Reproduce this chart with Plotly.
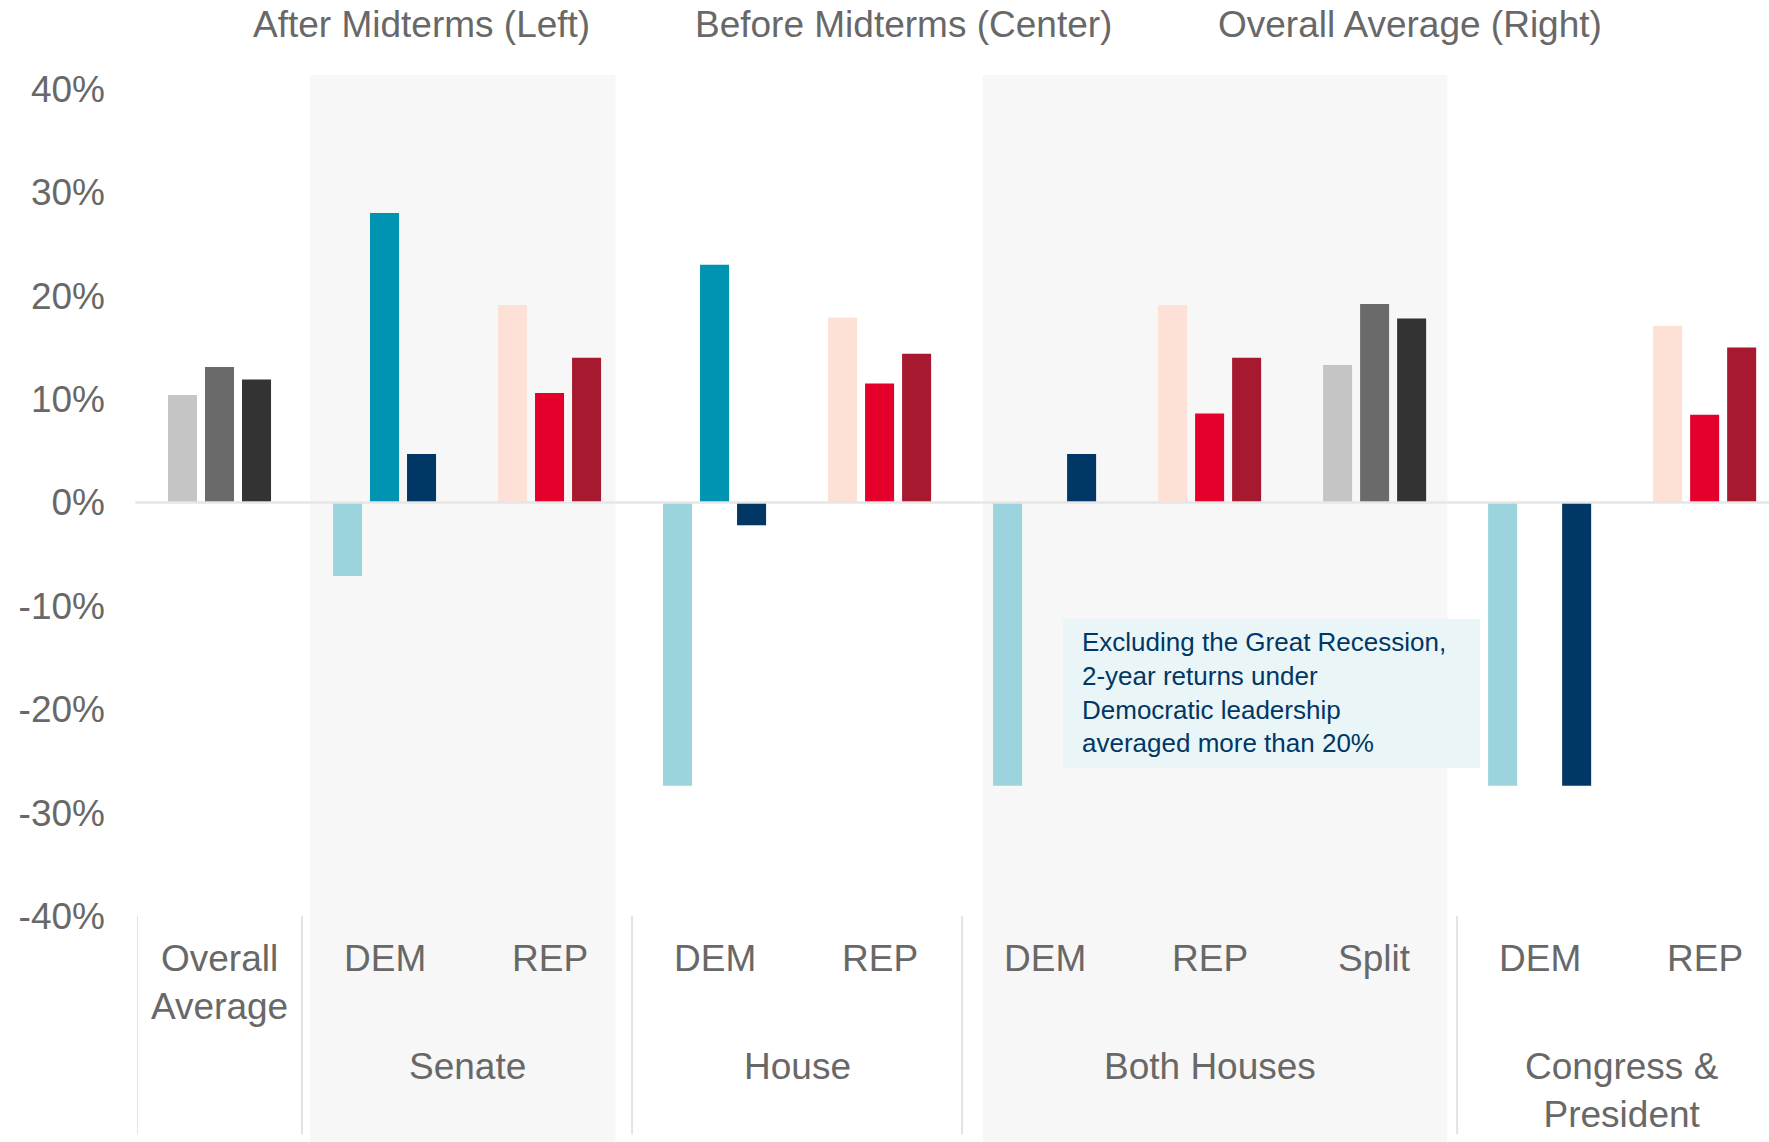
import plotly.graph_objects as go

# ---------------- data ----------------
categories = ["Overall<br>Average", "DEM", "REP", "DEM", "REP", "DEM", "REP", "Split", "DEM", "REP"]
cat_kind = ["avg", "dem", "rep", "dem", "rep", "dem", "rep", "avg", "dem", "rep"]

after_midterms = [10.4, -7.1, 19.1, -27.4, 17.9, -27.4, 19.1, 13.3, -27.4, 17.1]
before_midterms = [13.1, 28.0, 10.6, 23.0, 11.5, None, 8.6, 19.2, None, 8.5]
overall_average = [11.9, 4.7, 14.0, -2.2, 14.4, 4.7, 14.0, 17.8, -27.4, 15.0]

series_names = ["After Midterms (Left)", "Before Midterms (Center)", "Overall Average (Right)"]

groups = ["Senate", "House", "Both Houses", "Congress &<br>President"]
group_members = [[1, 2], [3, 4], [5, 6, 7], [8, 9]]

tick_vals = [40, 30, 20, 10, 0, -10, -20, -30, -40]
tick_text = ["40%", "30%", "20%", "10%", "0%", "-10%", "-20%", "-30%", "-40%"]

note_text = ("Excluding the Great Recession,<br>2-year returns under<br>"
             "Democratic leadership<br>averaged more than 20%")

# ---------------- styles ----------------
palette = {
    "avg": ["#C4C5C4", "#696A69", "#333333"],
    "dem": ["#9CD4DD", "#0093B2", "#003764"],
    "rep": ["#FDE1D6", "#E4002B", "#A6192E"],
}
FONT = "Liberation Sans, Arial, sans-serif"
GREY = "#686868"
BIG = 37

W, H = 1769, 1142
x_pos = list(range(len(categories)))

fig = go.Figure()
for i, (name, vals) in enumerate(zip(series_names, [after_midterms, before_midterms, overall_average])):
    fig.add_trace(go.Bar(
        x=x_pos, y=vals, name=name,
        marker=dict(color=[palette[k][i] for k in cat_kind], line=dict(width=0)),
        showlegend=False, hoverinfo="skip",
    ))

shapes = []
# shaded group backgrounds (Senate, Both Houses)
for x0, x1 in [(0.55, 2.4), (4.625, 7.44)]:
    shapes.append(dict(type="rect", xref="x", yref="paper", x0=x0, x1=x1, y0=0, y1=1,
                       fillcolor="#F7F7F7", line=dict(width=0), layer="below"))
# note box background
shapes.append(dict(type="rect", xref="x", yref="y", x0=5.112, x1=7.639, y0=-11.27, y1=-25.68,
                   fillcolor="#EAF5F8", line=dict(width=0), layer="below"))
# separators below axis
for xs in [-0.5, 0.5, 2.5, 4.5, 7.5]:
    shapes.append(dict(type="line", xref="x", yref="y", x0=xs, x1=xs, y0=-40, y1=-61.1,
                       line=dict(color="#E3E3E3", width=2), layer="above"))
# zero line
shapes.append(dict(type="line", xref="paper", yref="y", x0=-0.001, x1=1, y0=0, y1=0,
                   line=dict(color="#E6E6E6", width=2.5), layer="above"))

annotations = []
# category labels
for xi, lab in zip(x_pos, categories):
    annotations.append(dict(x=xi, y=-41.9, xref="x", yref="y", text=lab, showarrow=False,
                            xanchor="center", yanchor="top", align="center",
                            font=dict(family=FONT, size=BIG, color=GREY)))
# group labels
for g, mem in zip(groups, group_members):
    gx = sum(mem) / len(mem)
    annotations.append(dict(x=gx, y=-52.4, xref="x", yref="y", text=g, showarrow=False,
                            xanchor="center", yanchor="top", align="center",
                            font=dict(family=FONT, size=BIG, color=GREY)))
# series header labels
for name, hx in zip(series_names, [1.225, 4.147, 7.213]):
    annotations.append(dict(x=hx, y=1.047, xref="x", yref="paper", text=name, showarrow=False,
                            xanchor="center", yanchor="middle",
                            font=dict(family=FONT, size=BIG, color=GREY)))
# note text
annotations.append(dict(x=5.213, y=-18.4, xref="x", yref="y", text=note_text, showarrow=False,
                        xanchor="left", yanchor="middle", align="left",
                        font=dict(family=FONT, size=26, color="#003764")))

fig.update_layout(
    width=W, height=H,
    margin=dict(l=137, r=0, t=75, b=0),
    paper_bgcolor="white", plot_bgcolor="rgba(0,0,0,0)",
    barmode="group", bargap=0.327, bargroupgap=0.216,
    shapes=shapes, annotations=annotations,
    hovermode=False,
    xaxis=dict(range=[-0.5, 9.39], showticklabels=False, showgrid=False, zeroline=False,
               showline=False, ticks="", fixedrange=True),
    yaxis=dict(range=[-61.85, 41.35], tickvals=tick_vals, ticktext=tick_text,
               showgrid=False, zeroline=False, showline=False, ticks="",
               ticklabelstandoff=31, fixedrange=True,
               tickfont=dict(family=FONT, size=BIG, color=GREY)),
)

fig.write_html("out.html",
               config={"displayModeBar": False, "staticPlot": True},
               post_script="document.body.style.margin='0';document.body.style.overflow='hidden';")
